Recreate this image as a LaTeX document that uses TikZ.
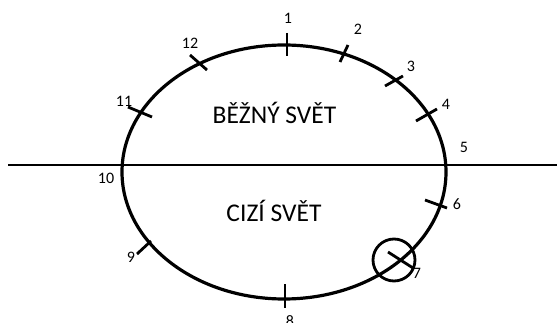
\documentclass[tikz,border=0pt]{standalone}
\usepackage{fontspec}
\setmainfont{Carlito}
\begin{document}
\begin{tikzpicture}[x=1pt,y=-1pt,
  world/.style={line width=3.2pt},
  tickmark/.style={line width=2.8pt},
  num/.style={font=\fontsize{16}{16}\selectfont, inner sep=0pt},
  title/.style={font=\fontsize{25.5}{25.5}\selectfont, inner sep=0pt, anchor=base}]
\useasboundingbox (0,0) rectangle (557,323);
% horizontal divider
\draw[line width=2.8pt] (8,165) coordinate (hl) -- (557,165) coordinate (hr);
% world ellipse
\draw[world] (284,172) ellipse [x radius=162, y radius=127];
% ticks
\draw[tickmark] (287,33) coordinate (t1a) -- (287,56) coordinate (t1b);
\draw[tickmark] (348,45) coordinate (t2a) -- (340,62) coordinate (t2b);
\draw[tickmark] (385,86) coordinate (t3a) -- (403,76) coordinate (t3b);
\draw[tickmark] (416,121) coordinate (t4a) -- (437,109) coordinate (t4b);
\draw[tickmark] (425,200) coordinate (t6a) -- (447,208) coordinate (t6b);
\draw[tickmark] (388,252) coordinate (t7a) -- (413,268) coordinate (t7b);
\draw[tickmark] (285,284) coordinate (t8a) -- (285,308) coordinate (t8b);
\draw[tickmark] (151,241) coordinate (t9a) -- (137,254) coordinate (t9b);
\draw[tickmark] (128,107) coordinate (t11a) -- (152,117) coordinate (t11b);
\draw[tickmark] (190,55) coordinate (t12a) -- (207,70) coordinate (t12b);
% circle around 7
\draw[line width=2.8pt] (394,260) circle [radius=21];
% labels
\node[num] (n1) at (288,18) {1};
\node[num] (n2) at (358,29) {2};
\node[num] (n3) at (411,66) {3};
\node[num] (n4) at (446,104) {4};
\node[num] (n5) at (464,147) {5};
\node[num] (n6) at (457,204) {6};
\node[num] (n7) at (417,273) {7};
\node[num] (n8) at (290,321) {8};
\node[num] (n9) at (131,257) {9};
\node[num] (n10) at (106,178) {10};
\node[num] (n11) at (124,101) {11};
\node[num] (n12) at (190,43) {12};
\node[title] (bw) at (274.5,124) {BĚŽNÝ SVĚT};
\node[title] (cw) at (274,222) {CIZÍ SVĚT};
\end{tikzpicture}
\end{document}
